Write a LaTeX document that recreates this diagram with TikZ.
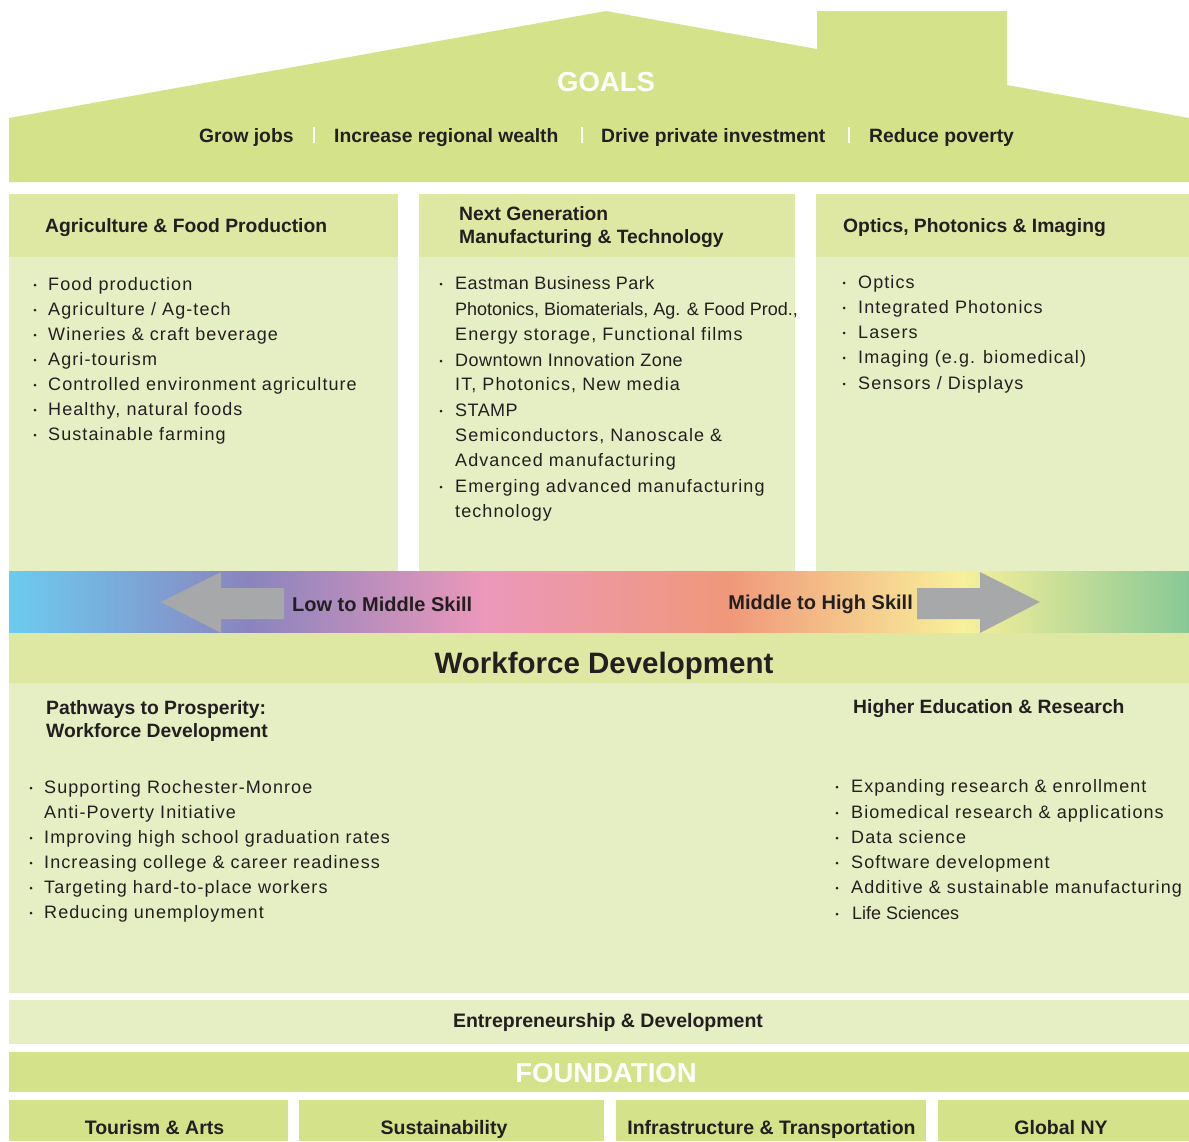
\documentclass[tikz,border=0pt]{standalone}
\usepackage{fontspec}
\setmainfont{Liberation Sans}
\newfontfamily\bodyfont[LetterSpace=6]{Liberation Sans}
\newfontfamily\semifont[LetterSpace=2.5]{Liberation Sans}
\definecolor{roofgreen}{HTML}{D4E38A}
\definecolor{hdrgreen}{HTML}{DEE8A3}
\definecolor{bodygreen}{HTML}{E6EEC4}
\definecolor{ink}{HTML}{231F20}
\definecolor{arrowgray}{HTML}{A7A8AA}
\definecolor{sk1}{HTML}{6CCBF0}
\definecolor{sk2}{HTML}{8A84BE}
\definecolor{sk3}{HTML}{EC98BA}
\definecolor{sk4}{HTML}{F0987A}
\definecolor{sk5}{HTML}{F8F09A}
\definecolor{sk6}{HTML}{88C896}
\pgfdeclarehorizontalshading{skill}{100bp}{color(0bp)=(sk1); color(25bp)=(sk1); color(35.2bp)=(sk2); color(45.2bp)=(sk3); color(55.5bp)=(sk4); color(65.4bp)=(sk5); color(75bp)=(sk6); color(100bp)=(sk6)}
\newcommand\bul[2]{\fill[ink] (#1,#2-5) circle (1.5);}
\tikzset{
  bodytxt/.style={anchor=base west, inner sep=0, text=ink, font=\bodyfont\fontsize{18}{22}\selectfont},
  plaintxt/.style={anchor=base west, inner sep=0, text=ink, font=\fontsize{18}{22}\selectfont},
  semitxt/.style={anchor=base west, inner sep=0, text=ink, font=\semifont\fontsize{18}{22}\selectfont},
  boldtxt/.style={anchor=base west, inner sep=0, text=ink, font=\bfseries\fontsize{19.3}{23}\selectfont},
  boldmid/.style={anchor=base, inner sep=0, text=ink, font=\bfseries\fontsize{19.5}{23}\selectfont},
  bigwhite/.style={anchor=base, inner sep=0, text=white, font=\bfseries\fontsize{27.5}{32}\selectfont},
  skilltxt/.style={inner sep=0, text=ink, font=\bfseries\fontsize{20}{24}\selectfont},
  sep/.style={draw=white, line width=2pt},
  arrowshape/.style={fill=arrowgray}
}
\begin{document}
\begin{tikzpicture}[x=1pt,y=-1pt]
\useasboundingbox (0,0) rectangle (1189,1141);
\fill[white] (0,0) rectangle (1189,1141);
% roof
\fill[roofgreen] (9,118) -- (606,11) -- (817,49) -- (817,11) -- (1007,11) -- (1007,85) -- (1189,118) -- (1189,182) -- (9,182) -- cycle;
\node[bigwhite] (goals) at (606,91) {GOALS};
\node[boldtxt] (g1) at (199,142) {Grow jobs};
\node[boldtxt] (g2) at (334,142) {Increase regional wealth};
\node[boldtxt] (g3) at (601,142) {Drive private investment};
\node[boldtxt] (g4) at (869,142) {Reduce poverty};
\draw[sep] (314,127) -- (314,143);
\draw[sep] (582,127) -- (582,143);
\draw[sep] (849,127) -- (849,143);
% columns
\fill[hdrgreen] (9,194) rectangle (398,257);
\fill[bodygreen] (9,257) rectangle (398,571);
\fill[hdrgreen] (419,194) rectangle (795,257);
\fill[bodygreen] (419,257) rectangle (795,571);
\fill[hdrgreen] (816,194) rectangle (1189,257);
\fill[bodygreen] (816,257) rectangle (1189,571);
% column 1
\node[boldtxt] (h1) at (45,232) {Agriculture \& Food Production};
\foreach \t/\y [count=\i] in {{Food production}/290, {Agriculture / Ag-tech}/315, {Wineries \& craft beverage}/340, {Agri-tourism}/365, {Controlled environment agriculture}/390, {Healthy, natural foods}/415, {Sustainable farming}/440}{
  \bul{35}{\y}
  \node[bodytxt] (ca\i) at (48,\y) {\t};
}
% column 2
\node[boldtxt] (h2a) at (459,220) {Next Generation};
\node[boldtxt] (h2b) at (459,243) {Manufacturing \& Technology};
\bul{441}{289}
\node[semitxt] (cb1) at (455,289) {Eastman Business Park};
\node[plaintxt] (cb2) at (455,315) {Photonics, Biomaterials, Ag. \& Food Prod.,};
\node[bodytxt] (cb3) at (455,340) {Energy storage, Functional films};
\bul{441}{366}
\node[semitxt] (cb4) at (455,366) {Downtown Innovation Zone};
\node[bodytxt] (cb5) at (455,390) {IT, Photonics, New media};
\bul{441}{416}
\node[semitxt] (cb6) at (455,416) {STAMP};
\node[bodytxt] (cb7) at (455,441) {Semiconductors, Nanoscale \&};
\node[bodytxt] (cb8) at (455,466) {Advanced manufacturing};
\bul{441}{492}
\node[bodytxt] (cb9) at (455,492) {Emerging advanced manufacturing};
\node[bodytxt] (cb10) at (455,517) {technology};
% column 3
\node[boldtxt] (h3) at (843,232) {Optics, Photonics \& Imaging};
\foreach \t/\y [count=\i] in {{Optics}/288, {Integrated Photonics}/313, {Lasers}/338, {Imaging (e.g. biomedical)}/363, {Sensors / Displays}/389}{
  \bul{844}{\y}
  \node[bodytxt] (cc\i) at (858,\y) {\t};
}
% skill bar
\shade[shading=skill] (9,571) rectangle (1189,633);
\fill[arrowshape] (161,602) -- (221,572) -- (221,588) -- (284,588) -- (284,619) -- (221,619) -- (221,633) -- cycle;
\fill[arrowshape] (1040,602) -- (980,572) -- (980,588) -- (917,588) -- (917,619) -- (980,619) -- (980,633) -- cycle;
\node[skilltxt, anchor=west] (low) at (292,604) {Low to Middle Skill};
\node[skilltxt, anchor=east] (high) at (913,604) {Middle to High Skill};
% workforce
\fill[hdrgreen] (9,633) rectangle (1189,683);
\fill[bodygreen] (9,683) rectangle (1189,993);
\node[anchor=base, inner sep=0, text=ink, font=\bfseries\fontsize{29.5}{34}\selectfont] (wf) at (604,673) {Workforce Development};
\node[boldtxt] (wl1) at (46,714) {Pathways to Prosperity:};
\node[boldtxt] (wl2) at (46,737) {Workforce Development};
\node[boldtxt] (wr) at (853,713) {Higher Education \& Research};
\bul{31}{793}
\node[bodytxt] (wa1) at (44,793) {Supporting Rochester-Monroe};
\node[bodytxt] (wa2) at (44,818) {Anti-Poverty Initiative};
\bul{31}{843}
\node[bodytxt] (wa3) at (44,843) {Improving high school graduation rates};
\bul{31}{868}
\node[bodytxt] (wa4) at (44,868) {Increasing college \& career readiness};
\bul{31}{893}
\node[bodytxt] (wa5) at (44,893) {Targeting hard-to-place workers};
\bul{31}{918}
\node[bodytxt] (wa6) at (44,918) {Reducing unemployment};
\foreach \t/\y [count=\i] in {{Expanding research \& enrollment}/792, {Biomedical research \& applications}/818, {Data science}/843, {Software development}/868, {Additive \& sustainable manufacturing}/893}{
  \bul{837}{\y}
  \node[bodytxt] (wb\i) at (851,\y) {\t};
}
\bul{837}{919}
\node[plaintxt] (wb6) at (852,919) {Life Sciences};
% entrepreneurship & foundation
\fill[bodygreen] (9,1000) rectangle (1189,1044);
\node[boldmid] (ent) at (608,1027) {Entrepreneurship \& Development};
\fill[roofgreen] (9,1052) rectangle (1189,1092);
\node[bigwhite] (found) at (606,1082) {FOUNDATION};
\fill[roofgreen] (9,1100) rectangle (288,1141);
\fill[roofgreen] (299,1100) rectangle (604,1141);
\fill[roofgreen] (616,1100) rectangle (926,1141);
\fill[roofgreen] (938,1100) rectangle (1189,1141);
\node[boldmid] (f1) at (154.5,1134) {Tourism \& Arts};
\node[boldmid] (f2) at (444,1134) {Sustainability};
\node[boldmid] (f3) at (771.5,1134) {Infrastructure \& Transportation};
\node[boldmid] (f4) at (1061,1134) {Global NY};
\end{tikzpicture}
\end{document}
